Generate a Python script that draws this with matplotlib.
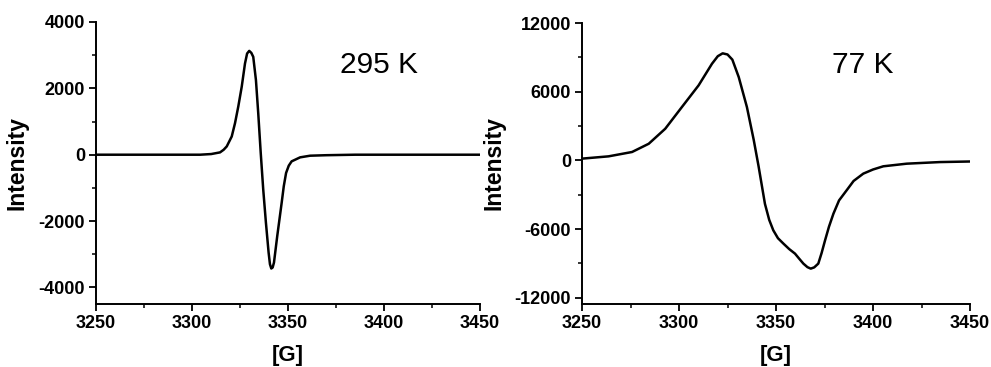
import matplotlib
matplotlib.use("Agg")
import matplotlib.pyplot as plt
from matplotlib.ticker import MultipleLocator, FuncFormatter

plt.rcParams['font.family'] = ['Liberation Sans', 'DejaVu Sans']

# 295 K spectrum (field in G, intensity)
field_295 = [3250, 3280, 3300, 3304.2, 3310, 3314.6, 3316.5, 3318.1, 3319.4, 3320.7, 3322.4,
             3324.1, 3325.9, 3327.6, 3328.7, 3329.8, 3330.9, 3331.9, 3333.3, 3334.5, 3335.8,
             3337.1, 3338.5, 3339.9, 3340.6, 3341.3, 3342.0, 3342.7, 3344.4, 3346.7, 3347.8,
             3349, 3350.4, 3351.9, 3356.3, 3361.5, 3370, 3385, 3410, 3450]
inten_295 = [0, 0, 0, 0, 20, 70, 150, 250, 400, 550, 950,
             1450, 2050, 2750, 3050, 3130, 3070, 2950, 2250, 1250, 50,
             -1050, -2050, -2950, -3300, -3430, -3400, -3250, -2450, -1450, -950,
             -550, -330, -200, -80, -30, -15, 0, 0, 0]

# 77 K spectrum
field_77 = [3250, 3263.7, 3275.8, 3284.4, 3292.9, 3301.5, 3310.1, 3317, 3320, 3322.5, 3325,
            3327.5, 3330.8, 3335, 3338.5, 3341, 3344.3, 3346.5, 3348.6, 3351, 3353.8,
            3356.8, 3359.8, 3362, 3364.1, 3366.2, 3367.9, 3369.7, 3371.8, 3373.5, 3375.3,
            3377.3, 3379.6, 3382.5, 3386.4, 3390, 3395, 3400, 3405.3, 3417.4, 3434.5, 3450]
inten_77 = [150, 350, 730, 1450, 2760, 4660, 6550, 8440, 9100, 9350, 9250,
            8800, 7270, 4660, 1800, -500, -3800, -5200, -6110, -6800, -7270,
            -7750, -8150, -8600, -9020, -9330, -9460, -9350, -9020, -8100, -6980,
            -5800, -4660, -3500, -2620, -1800, -1160, -800, -520, -290, -150, -100]

labels = ["295 K", "77 K"]
x_ticks = [3250, 3300, 3350, 3400, 3450]
y_ticks_295 = [-4000, -2000, 0, 2000, 4000]
y_ticks_77 = [-12000, -6000, 0, 6000, 12000]

fig = plt.figure(figsize=(9.91, 3.67), dpi=100)
ax1 = fig.add_axes([96/991, 63/367, 384/991, 282/367])
ax2 = fig.add_axes([582/991, 63/367, 388/991, 281/367])

hyphen = FuncFormatter(lambda v, p: f"{int(v)}")

def style(ax, yticks, ylim, yminor, ylab_x):
    ax.set_xlim(3250, 3450)
    ax.set_ylim(*ylim)
    ax.set_xticks(x_ticks)
    ax.set_yticks(yticks)
    ax.yaxis.set_major_formatter(hyphen)
    ax.xaxis.set_minor_locator(MultipleLocator(25))
    ax.yaxis.set_minor_locator(MultipleLocator(yminor))
    for s in ['top', 'right']:
        ax.spines[s].set_visible(False)
    for s in ['left', 'bottom']:
        ax.spines[s].set_linewidth(1.4)
    ax.tick_params(which='major', direction='out', length=5, width=1.3,
                   labelsize=13, pad=3)
    ax.tick_params(which='minor', direction='out', length=3, width=1.1)
    for lab in ax.get_xticklabels() + ax.get_yticklabels():
        lab.set_fontweight('bold')
    ax.set_xlabel('[G]', fontsize=16, fontweight='bold')
    ax.set_ylabel('Intensity', fontsize=16.5, fontweight='bold')
    ax.xaxis.set_label_coords(0.5, -0.145)
    ax.yaxis.set_label_coords(ylab_x, 0.5)

ax1.plot(field_295, inten_295, color='black', lw=1.8)
ax2.plot(field_77, inten_77, color='black', lw=1.8)
style(ax1, y_ticks_295, (-4500, 4000), 1000, -0.177)
style(ax2, y_ticks_77, (-12550, 12000), 3000, -0.198)

ax1.text(3377, 2700, labels[0], fontsize=21.5, ha='left', va='center')
ax2.text(3379, 8290, labels[1], fontsize=21.5, ha='left', va='center')

fig.savefig('out.png', dpi=100)
